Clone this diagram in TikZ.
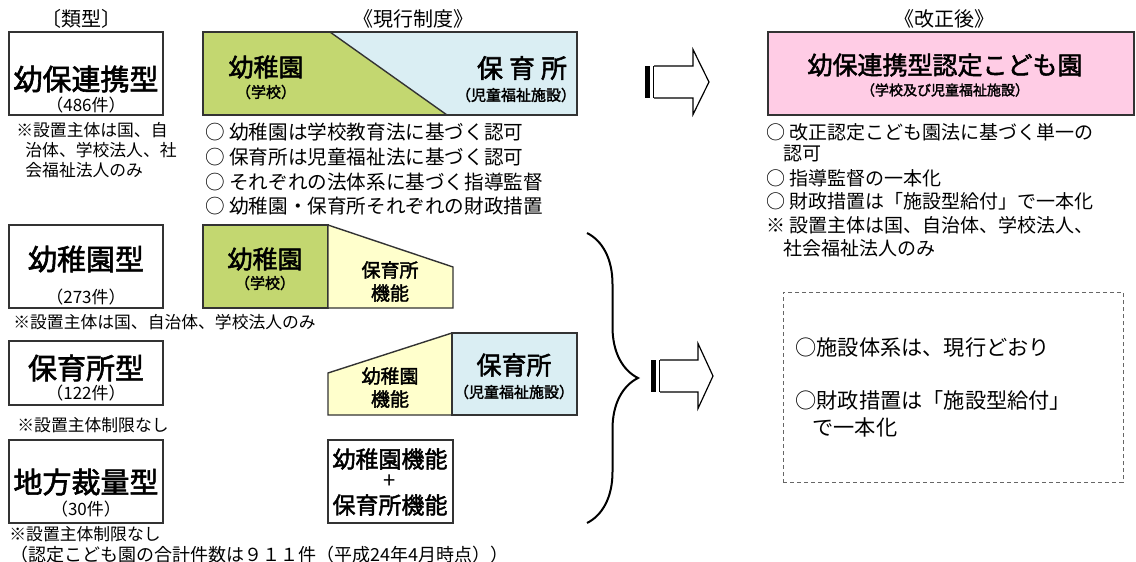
\documentclass[tikz,border=0pt]{standalone}
\usepackage{fontspec}
\setmainfont{Noto Sans CJK JP}
\newfontfamily\jpbold{Noto Sans CJK JP}[FakeBold=2]
\usetikzlibrary{decorations.pathreplacing}

\definecolor{kgreen}{RGB}{195,215,112}
\definecolor{nblue}{RGB}{218,238,243}
\definecolor{fyellow}{RGB}{255,255,204}
\definecolor{npink}{RGB}{255,204,229}

\begin{document}
\begin{tikzpicture}[x=0.5pt,y=-0.5pt]

      \tikzset{jp/.style={inner sep=0pt, font=\fontsize{#1}{#1}\selectfont},
               jpb/.style={inner sep=0pt, font=\jpbold\fontsize{#1}{#1}\selectfont},
               edge/.style={draw=black!80, line width=0.7pt},
               typebox/.style={edge, inner sep=0pt, minimum width=77pt},
               note/.style={jp=8.4, anchor=west},
               bullet/.style={jp=9.8, anchor=west},
               blockarrow/.style={draw=black, line width=0.6pt, fill=white}}

      \path[fill=white] (0,0) rectangle (1136,562);
      \useasboundingbox (0,0) rectangle (1136,562);

%% Titles
      	\node[jp=10] (ttype) at (81,19) {〔類型〕};
      	\node[jp=10] (tnow) at (413,19) {《現行制度》};
      	\node[jp=10] (tafter) at (944,19) {《改正後》};

%% Types (left column)
      	\node[typebox, minimum height=41.5pt] (typeA) at (86,73.5) {};
      	\node[jpb=14.5] (nameA) at (86,79) {幼保連携型};
      	\node[jp=8.5] (countA) at (86,105) {（486件）};
      	\node[note] (noteA1) at (16,130) {※設置主体は国、自};
      	\node[note] (noteA2) at (25,150) {治体、学校法人、社};
      	\node[note] (noteA3) at (25,170) {会福祉法人のみ};

      	\node[typebox, minimum height=41.5pt] (typeB) at (86,266.5) {};
      	\node[jpb=14.5] (nameB) at (86,259) {幼稚園型};
      	\node[jp=8.5] (countB) at (86,297) {（273件）};
      	\node[note] (noteB) at (13,322) {※設置主体は国、自治体、学校法人のみ};

      	\node[typebox, minimum height=32pt] (typeC) at (86,373) {};
      	\node[jpb=14.5] (nameC) at (86,368) {保育所型};
      	\node[jp=8.5] (countC) at (86,393) {（122件）};
      	\node[note] (noteC) at (17,425) {※設置主体制限なし};

      	\node[typebox, minimum height=41.5pt] (typeD) at (86,481.5) {};
      	\node[jpb=14.5] (nameD) at (86,482) {地方裁量型};
      	\node[jp=8.5] (countD) at (86,509) {（30件）};
      	\node[note] (noteD) at (9,534) {※設置主体制限なし};
      	\node[note, jp=9] (total) at (10,555) {（認定こども園の合計件数は９１１件（平成24年4月時点））};

%% Current system (middle column)
      	\fill[kgreen] (203,32) -- (330,32) -- (447,115) -- (203,115) -- cycle;
      	\fill[nblue] (330,32) -- (577,32) -- (577,115) -- (447,115) -- cycle;
      	\draw[edge] (203,32) rectangle (577,115);
      	\draw[edge] (330,32) -- (447,115);
      	\node[jpb=12.5] (kinA) at (266,67) {幼稚園};
      	\node[jpb=7.5] (kinAsub) at (266,92) {（学校）};
      	\node[jpb=13] (nurA) at (522,68) {保\kern3pt 育\kern3pt 所};
      	\node[jpb=7.5] (nurAsub) at (516,95) {（児童福祉施設）};

      	\node[bullet] (cur1) at (205,132) {○ 幼稚園は学校教育法に基づく認可};
      	\node[bullet] (cur2) at (205,157) {○ 保育所は児童福祉法に基づく認可};
      	\node[bullet] (cur3) at (205,182) {○ それぞれの法体系に基づく指導監督};
      	\node[bullet] (cur4) at (205,206) {○ 幼稚園・保育所それぞれの財政措置};

      	\filldraw[edge, fill=kgreen] (203,225) rectangle (328,308);
      	\filldraw[edge, fill=fyellow] (328,225) -- (453,267) -- (453,308) -- (328,308) -- cycle;
      	\node[jpb=12.5] (kinB) at (265,259) {幼稚園};
      	\node[jpb=7.5] (kinBsub) at (265,283) {（学校）};
      	\node[jpb=9.5] (funB1) at (390,270) {保育所};
      	\node[jpb=9.5] (funB2) at (390,293) {機能};

      	\filldraw[edge, fill=fyellow] (328,373) -- (452,333) -- (452,415) -- (328,415) -- cycle;
      	\filldraw[edge, fill=nblue] (452,333) rectangle (577,415);
      	\node[jpb=9.5] (funC1) at (390,376) {幼稚園};
      	\node[jpb=9.5] (funC2) at (390,399) {機能};
      	\node[jpb=12.5] (nurC) at (514,365) {保育所};
      	\node[jpb=7.5] (nurCsub) at (514,392) {（児童福祉施設）};

      	\node[edge, minimum width=62.5pt, minimum height=41.5pt] (funD) at (390.5,481.5) {};
      	\node[jpb=11.5] (funD1) at (390,459) {幼稚園機能};
      	\node[jp=11] (funDplus) at (390,482) {+};
      	\node[jpb=11.5] (funD2) at (390,505) {保育所機能};

%% Brace and arrows
      	\draw[line width=1pt, decorate, decoration={brace, amplitude=25.5pt}] (587,233) -- (587,523);

      \begin{scope}[shift={(645,82)}]
      	\fill (0,-16) rectangle (5,16);
      	\draw[line width=0.8pt] (9,-16) -- (9,16);
      	\draw[blockarrow] (9,-16) -- (48,-16) -- (48,-32.5) -- (64,0) -- (48,32.5) -- (48,16) -- (9,16);
      \end{scope}
      \begin{scope}[shift={(651,376)}]
      	\fill (0,-16) rectangle (5,16);
      	\draw[line width=0.8pt] (9,-16) -- (9,16);
      	\draw[blockarrow] (9,-16) -- (47,-16) -- (47,-32.5) -- (62,0) -- (47,32.5) -- (47,16) -- (9,16);
      \end{scope}

%% After revision (right column)
      	\node[edge, fill=npink, minimum width=183pt, minimum height=41.5pt] (newbox) at (951,73.5) {};
      	\node[jpb=12.5] (newname) at (945,65) {幼保連携型認定こども園};
      	\node[jpb=7] (newsub) at (945,90) {（学校及び児童福祉施設）};

      	\node[bullet, jp=9.5] (new1) at (766,132) {○ 改正認定こども園法に基づく単一の};
      	\node[bullet, jp=9.5] (new1b) at (783,154) {認可};
      	\node[bullet, jp=9.5] (new2) at (766,178) {○ 指導監督の一本化};
      	\node[bullet, jp=9.5] (new3) at (766,201) {○ 財政措置は「施設型給付」で一本化};
      	\node[bullet, jp=9.5] (new4) at (766,225) {※ 設置主体は国、自治体、学校法人、};
      	\node[bullet, jp=9.5] (new4b) at (783,248) {社会福祉法人のみ};

      	\node[draw=black!60, line width=0.5pt, dash pattern=on 2pt off 1.5pt, minimum width=170pt, minimum height=95pt, inner sep=0pt] (plan) at (953,387) {};
      	\node[jp=10.6, anchor=west] (plan1) at (795,347) {○施設体系は、現行どおり};
      	\node[jp=10.6, anchor=west] (plan2) at (795,400) {○財政措置は「施設型給付」};
      	\node[jp=10.6, anchor=west] (plan3) at (812,427) {で一本化};

	\end{tikzpicture}
\end{document}
